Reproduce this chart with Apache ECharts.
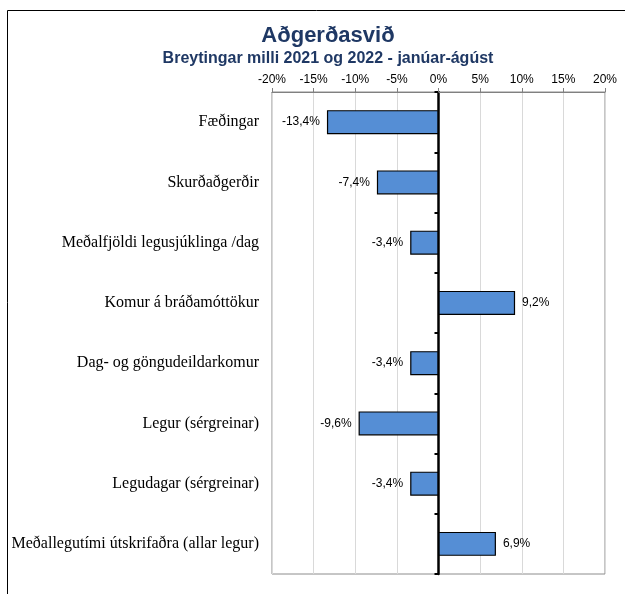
<!DOCTYPE html>
<html>
<head>
<meta charset="utf-8">
<script src="https://cdn.jsdelivr.net/npm/echarts@6/dist/echarts.min.js"></script>
<style>
  html, body { margin: 0; padding: 0; background: #fff; }
  #chart { width: 625px; height: 594px; }
</style>
</head>
<body>
<div id="chart"></div>
<script>
// Data
const categories = [
  'Fæðingar',
  'Skurðaðgerðir',
  'Meðalfjöldi legusjúklinga /dag',
  'Komur á bráðamóttökur',
  'Dag- og göngudeildarkomur',
  'Legur (sérgreinar)',
  'Legudagar (sérgreinar)',
  'Meðallegutími útskrifaðra (allar legur)'
];
const changes = [-13.4, -7.4, -3.4, 9.2, -3.4, -9.6, -3.4, 6.9];
const axisMin = -20;
const axisMax = 20;
const axisStep = 5;

const pct = v => v.toFixed(1).replace('.', ',') + '%';

const chart = echarts.init(document.getElementById('chart'));

chart.setOption({
  animation: false,
  title: {
    text: 'Aðgerðasvið',
    subtext: 'Breytingar milli 2021 og 2022 - janúar-ágúst',
    left: 323,
    textAlign: 'center',
    top: 20,
    itemGap: 4,
    textStyle: { fontFamily: 'Liberation Sans', fontSize: 22, fontWeight: 'bold', color: '#1F3864' },
    subtextStyle: { fontFamily: 'Liberation Sans', fontSize: 16, fontWeight: 'bold', color: '#1F3864' }
  },
  graphic: [{
    type: 'rect',
    shape: { x: 7.5, y: 10.5, width: 800, height: 800 },
    style: { fill: 'none', stroke: '#000', lineWidth: 1 },
    silent: true
  }],
  grid: {
    left: 272, right: 20, top: 92, bottom: 20,
    show: true, borderColor: '#8c8c8c', borderWidth: 1
  },
  xAxis: {
    type: 'value',
    position: 'top',
    min: axisMin,
    max: axisMax,
    interval: axisStep,
    axisLine: { show: true, lineStyle: { color: '#808080' } },
    axisTick: { show: true, length: 4, lineStyle: { color: '#808080' } },
    axisLabel: {
      formatter: v => v + '%',
      fontFamily: 'Liberation Sans', fontSize: 12, color: '#000', margin: 6
    },
    splitLine: { show: true, lineStyle: { color: '#d9d9d9' } }
  },
  yAxis: [{
    type: 'category',
    data: categories,
    inverse: true,
    position: 'left',
    axisLine: { show: false, onZero: false },
    axisTick: { show: false },
    axisLabel: { fontFamily: 'Liberation Serif', fontSize: 16, color: '#000', margin: 13 }
  }, {
    type: 'category',
    data: categories,
    inverse: true,
    position: 'left',
    axisLine: { show: true, onZero: true, lineStyle: { color: '#000', width: 2.5 } },
    axisTick: { show: true, length: 4, lineStyle: { color: '#000', width: 2 } },
    axisLabel: { show: false }
  }],
  series: [{
    type: 'bar',
    yAxisIndex: 0,
    data: changes.map(v => ({
      value: v,
      label: { position: v < 0 ? 'left' : 'right' }
    })),
    barWidth: 24,
    itemStyle: { color: '#558ED5', borderColor: '#000', borderWidth: 1.2 },
    label: {
      show: true,
      formatter: p => pct(p.value),
      fontFamily: 'Liberation Sans', fontSize: 12, color: '#000', distance: 7
    }
  }]
});
</script>
</body>
</html>
